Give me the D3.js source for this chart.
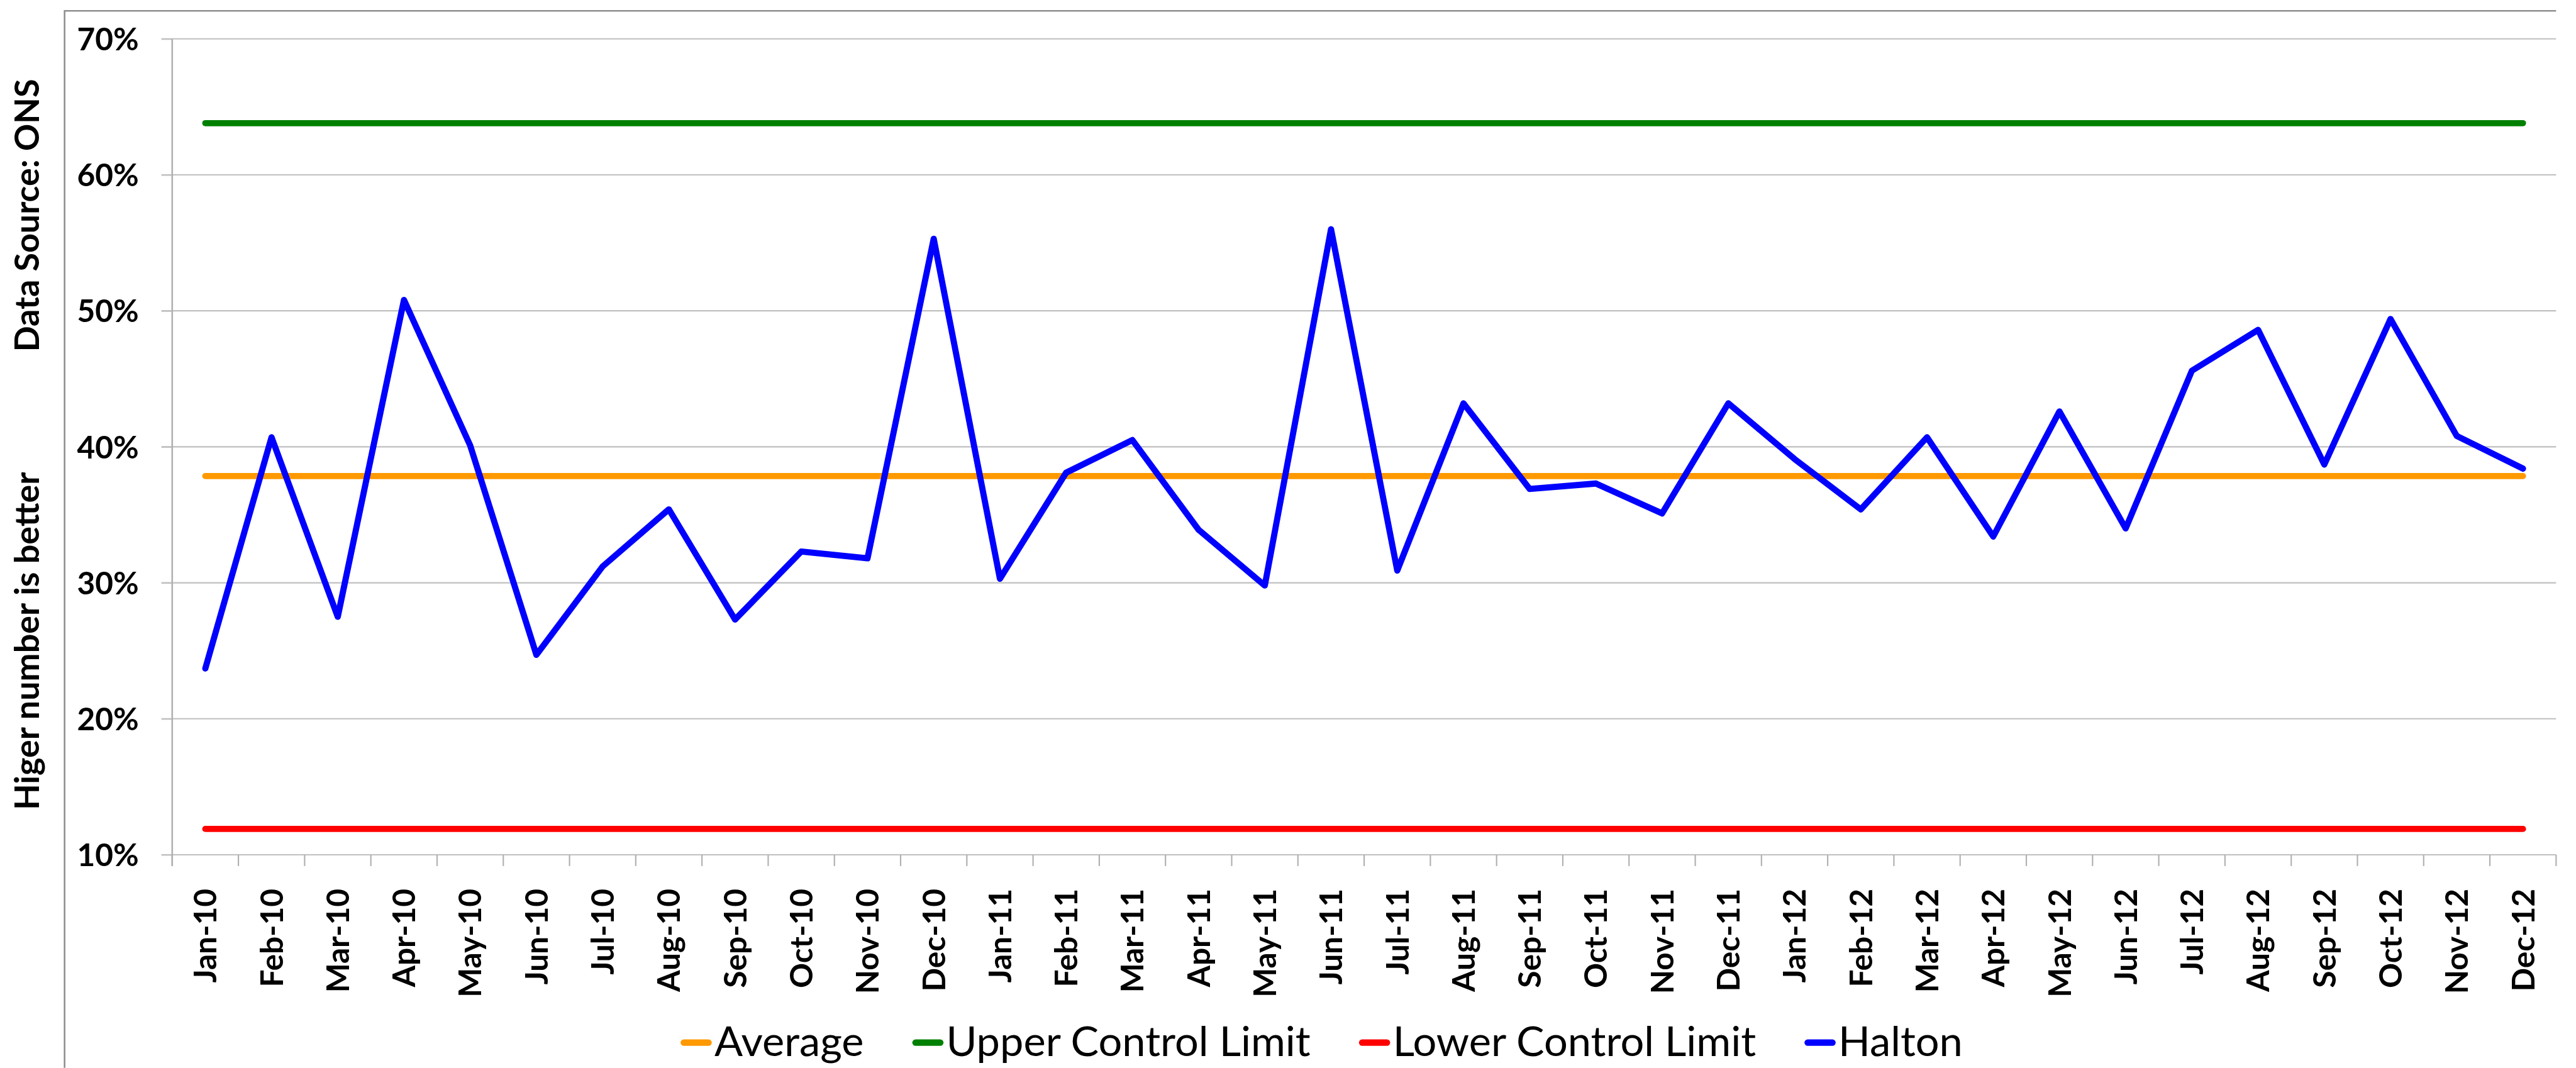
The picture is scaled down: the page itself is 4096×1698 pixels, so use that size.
<!DOCTYPE html>
<html lang="en">
<head>
  <meta charset="UTF-8">
  <title>Halton control chart</title>
  <style>
    html, body { margin: 0; padding: 0; background: #fff; }
    svg { display: block; }
    .tick text { font-family: Lato, "Open Sans", sans-serif; font-weight: 700; fill: #000; }
    .title { font-family: Lato, "Open Sans", sans-serif; font-weight: 700; fill: #000; }
    .legend text { font-family: Lato, "Open Sans", sans-serif; font-weight: 400; fill: #000; }
  </style>
</head>
<body>
  <div id="chart"></div>

  <script src="https://d3js.org/d3.v7.min.js"></script>
  <script>
    // months on the x axis
    const months = ["Jan-10", "Feb-10", "Mar-10", "Apr-10", "May-10", "Jun-10",
                    "Jul-10", "Aug-10", "Sep-10", "Oct-10", "Nov-10", "Dec-10",
                    "Jan-11", "Feb-11", "Mar-11", "Apr-11", "May-11", "Jun-11",
                    "Jul-11", "Aug-11", "Sep-11", "Oct-11", "Nov-11", "Dec-11",
                    "Jan-12", "Feb-12", "Mar-12", "Apr-12", "May-12", "Jun-12",
                    "Jul-12", "Aug-12", "Sep-12", "Oct-12", "Nov-12", "Dec-12"];

    // Halton monthly rate (%)
    const halton = [23.7, 40.7, 27.5, 50.8, 40.1, 24.7, 31.2, 35.4, 27.3, 32.3, 31.8, 55.3,
                    30.3, 38.1, 40.5, 33.9, 29.8, 56.0, 30.9, 43.2, 36.9, 37.3, 35.1, 43.2,
                    39.1, 35.4, 40.7, 33.4, 42.6, 34.0, 45.6, 48.6, 38.7, 49.4, 40.8, 38.4];

    // control lines (%)
    const averageValue = 37.85;
    const upperLimit = 63.8;
    const lowerLimit = 11.9;

    const yTicks = [10, 20, 30, 40, 50, 60, 70];

    const seriesNames = ["Average", "Upper Control Limit", "Lower Control Limit", "Halton"];
    const seriesColors = ["#ff9900", "#008000", "#ff0000", "#0000ff"];

    // drawn in the reference's own pixel space, scaled down by the viewBox
    const W = 4787, H = 1984;
    const svg = d3.select("#chart").append("svg")
      .attr("width", 4096)
      .attr("height", 1698)
      .attr("viewBox", `0 0 ${W} ${H}`);

    const plotLeft = 320, plotRight = 4750, plotTop = 72, plotBottom = 1588;

    const x = d3.scaleBand().domain(months).range([plotLeft, plotRight]).padding(0);
    const y = d3.scaleLinear().domain([10, 70]).range([plotBottom, plotTop]);
    const cx = m => x(m) + x.bandwidth() / 2;

    // chart frame (top and left edges only show)
    svg.append("path")
      .attr("d", `M120,${H} V20 H${plotRight}`)
      .attr("fill", "none")
      .attr("stroke", "#8e8e8e")
      .attr("stroke-width", 3);

    // gridlines
    svg.append("g").selectAll("line")
      .data(yTicks)
      .join("line")
      .attr("x1", plotLeft - 20)
      .attr("x2", plotRight)
      .attr("y1", d => y(d))
      .attr("y2", d => y(d))
      .attr("stroke", "#c0c0c0")
      .attr("stroke-width", 2.5);

    // y axis
    const yAxis = svg.append("g")
      .attr("transform", `translate(${plotLeft},0)`)
      .call(d3.axisLeft(y).tickValues(yTicks).tickFormat(d => d + "%")
        .tickSizeInner(20).tickSizeOuter(0).tickPadding(42));
    yAxis.select(".domain").remove();
    yAxis.selectAll("line").attr("stroke", "#c0c0c0").attr("stroke-width", 2.5);
    yAxis.selectAll("text").attr("font-size", 58).attr("dy", "0.36em");

    svg.append("line")
      .attr("x1", plotLeft).attr("x2", plotLeft)
      .attr("y1", plotTop).attr("y2", plotBottom + 21)
      .attr("stroke", "#b0b0b0")
      .attr("stroke-width", 3);

    // x axis: ticks sit between the months
    svg.append("g").selectAll("line")
      .data(months.concat([null]))
      .join("line")
      .attr("x1", d => d === null ? plotRight : x(d))
      .attr("x2", d => d === null ? plotRight : x(d))
      .attr("y1", plotBottom)
      .attr("y2", plotBottom + 21)
      .attr("stroke", "#b0b0b0")
      .attr("stroke-width", 2.5);

    const xAxis = svg.append("g")
      .attr("transform", `translate(0,${plotBottom})`)
      .call(d3.axisBottom(x).tickSize(0));
    xAxis.select(".domain").remove();
    xAxis.selectAll("text")
      .attr("font-size", 58)
      .attr("transform", "rotate(-90)")
      .attr("x", -63)
      .attr("y", 0)
      .attr("dy", "0.36em")
      .attr("text-anchor", "end");

    // axis title, split in two as in the original
    svg.append("text").attr("class", "title")
      .attr("transform", "translate(73,1191) rotate(-90)")
      .attr("text-anchor", "middle")
      .attr("font-size", 63)
      .text("Higer number is better");
    svg.append("text").attr("class", "title")
      .attr("transform", "translate(73,400) rotate(-90)")
      .attr("text-anchor", "middle")
      .attr("font-size", 63)
      .text("Data Source: ONS");

    // series
    const line = d3.line().x(d => cx(d[0])).y(d => y(d[1]));
    const series = [
      months.map(m => [m, averageValue]),
      months.map(m => [m, upperLimit]),
      months.map(m => [m, lowerLimit]),
      months.map((m, i) => [m, halton[i]])
    ];

    svg.append("g").selectAll("path")
      .data(series)
      .join("path")
      .attr("d", line)
      .attr("fill", "none")
      .attr("stroke", (d, i) => seriesColors[i])
      .attr("stroke-width", 11.5)
      .attr("stroke-linecap", "round")
      .attr("stroke-linejoin", "round");

    // legend, centred under the chart area
    const legend = svg.append("g").attr("class", "legend");
    const items = legend.selectAll("g")
      .data(seriesNames)
      .join("g");
    items.append("line")
      .attr("x1", 6).attr("x2", 52)
      .attr("y1", 1937).attr("y2", 1937)
      .attr("stroke", (d, i) => seriesColors[i])
      .attr("stroke-width", 12)
      .attr("stroke-linecap", "round");
    items.append("text")
      .attr("x", 63)
      .attr("y", 1962)
      .attr("font-size", 78)
      .text(d => d);

    let offset = 0;
    const widths = [];
    items.each(function () {
      const w = 63 + d3.select(this).select("text").node().getComputedTextLength();
      widths.push(w);
    });
    const total = d3.sum(widths) + 90 * (widths.length - 1);
    const start = 2456 - total / 2;
    items.attr("transform", (d, i) => {
      const t = `translate(${start + offset},0)`;
      offset += widths[i] + 90;
      return t;
    });
  </script>
</body>
</html>
